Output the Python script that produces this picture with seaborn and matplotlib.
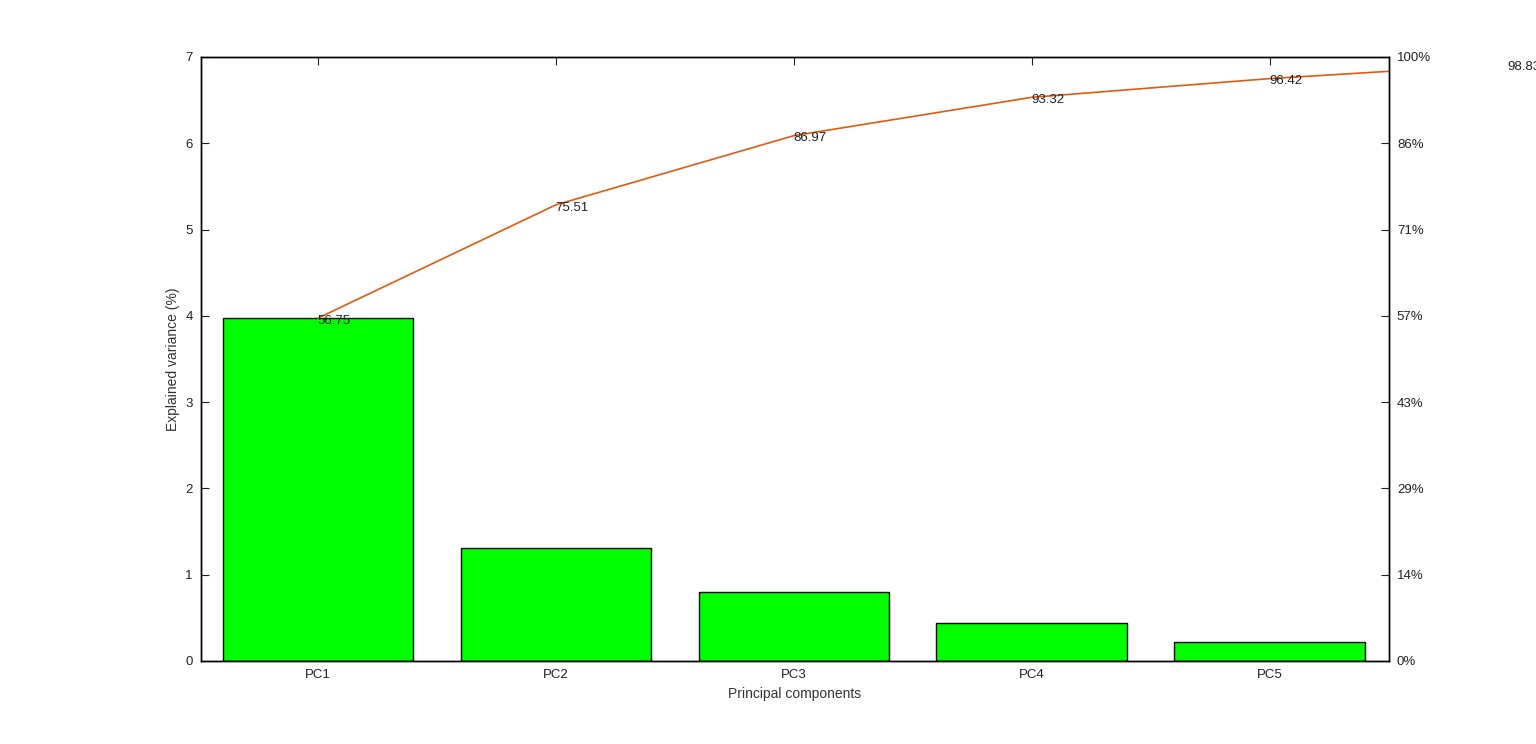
import matplotlib
matplotlib.use("Agg")
import matplotlib.pyplot as plt
import seaborn as sns
import numpy as np
import pandas as pd

components = ["PC1", "PC2", "PC3", "PC4", "PC5"]
variance = [3.97, 1.313, 0.802, 0.445, 0.217]
cumulative = [56.75, 75.51, 86.97, 93.32, 96.42, 98.83]
cum_labels = ["56.75", "75.51", "86.97", "93.32", "96.42", "98.83"]
right_ticks = ["0%", "14%", "29%", "43%", "57%", "71%", "86%", "100%"]

sns.set_style("white")
plt.rcParams['font.family'] = ['Liberation Sans', 'DejaVu Sans']

fig = plt.figure(figsize=(15.36, 7.44), dpi=100)
ax = fig.add_axes([0.131, 0.1116, 0.773, 0.8118])
df = pd.DataFrame({"pc": components, "v": variance})
sns.barplot(data=df, x="pc", y="v", color="#00ff00", saturation=1, width=0.8,
            edgecolor="black", linewidth=1, ax=ax)
ax.set_xlim(-0.49, 4.5)
ax.set_ylim(0, 7)
ax.set_xlabel("Principal components", fontsize=10, color="#333333")
ax.set_ylabel("Explained variance (%)", fontsize=10, color="#333333")

xs = np.arange(len(cumulative))
ys = np.array(cumulative) * 7 / 100
ax.plot(xs, ys, color="#e05a10", lw=1.2)
for x, y, t in zip(xs, ys, cum_labels):
    ax.annotate(t, (x, y), xytext=(0, -2), textcoords="offset points",
                ha="left", va="center", fontsize=9.5, color="#222222",
                annotation_clip=False)

ax.tick_params(direction="in", length=6, top=True, labelsize=9.5, colors="#222222", pad=6)
ax.set_yticks(range(8))
ax2 = ax.twinx()
ax2.set_ylim(0, 7)
ax2.set_yticks(range(8))
ax2.set_yticklabels(right_ticks)
ax2.tick_params(direction="in", length=6, labelsize=9.5, colors="#222222", pad=6)
for a in (ax, ax2):
    for s in a.spines.values():
        s.set_color("black")
        s.set_linewidth(1)

fig.savefig("out.png", dpi=100)
